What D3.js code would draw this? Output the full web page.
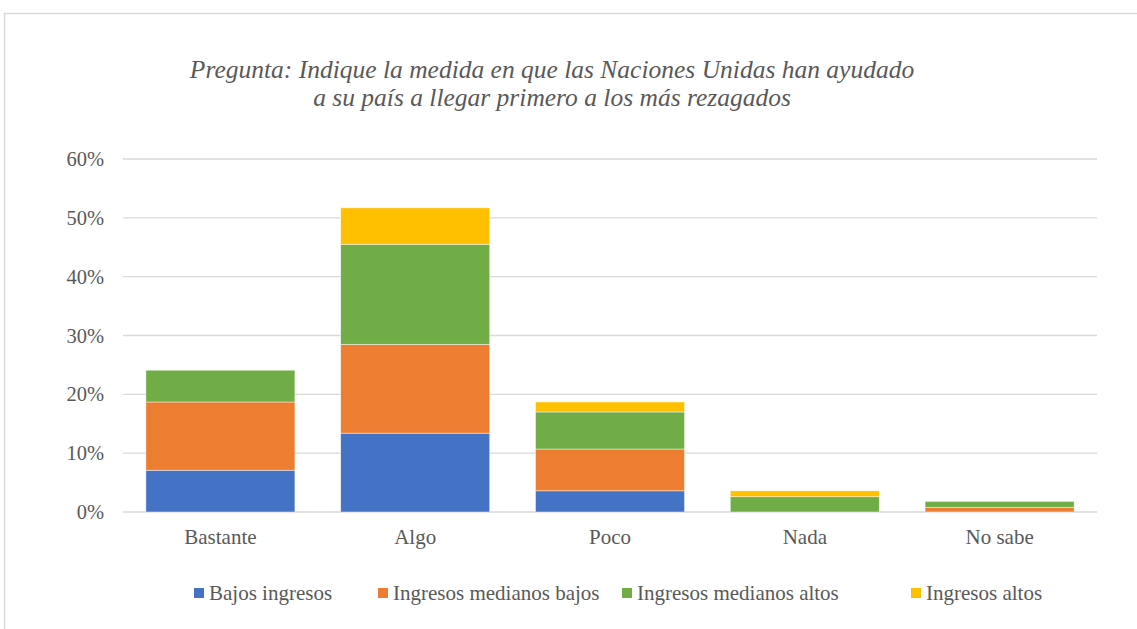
<!DOCTYPE html>
<html>
<head>
<meta charset="utf-8">
<script src="https://cdn.jsdelivr.net/npm/d3@7"></script>
<style>
body{margin:0;background:#fff;}
</style>
</head>
<body>
<svg width="1137" height="629" font-family="'Liberation Serif', 'Times New Roman', serif"></svg>
<script>
// datos
var categorias=["Bastante","Algo","Poco","Nada","No sabe"];
var series=["Bajos ingresos","Ingresos medianos bajos","Ingresos medianos altos","Ingresos altos"];
var bajos=[7.1,13.4,3.6,0,0];
var medBajos=[11.6,15.1,7.1,0,0.8];
var medAltos=[5.4,17.0,6.3,2.6,1.0];
var altos=[0,6.2,1.7,1.0,0];
var colores=["#4472c4","#ed7d31","#70ad47","#ffc000"];
var ticks=[0,10,20,30,40,50,60];
var fuente="'Liberation Serif', 'Times New Roman', serif";

var svg=d3.select("svg");

//marco
svg.append("rect")
   .attr("x",4.5).attr("y",13.5)
   .attr("width",1200).attr("height",700)
   .attr("fill","none").attr("stroke","#d9d9d9").attr("stroke-width",1.5);

//titulo
var titulo=svg.append("text").attr("text-anchor","middle")
   .attr("font-family",fuente).attr("font-style","italic").attr("font-size",25.5).attr("fill","#595959");
titulo.append("tspan").attr("x",552).attr("y",78).text("Pregunta: Indique la medida en que las Naciones Unidas han ayudado");
titulo.append("tspan").attr("x",552).attr("y",106).text("a su país a llegar primero a los más rezagados");

var x=d3.scaleBand().domain(categorias).range([123,1097]).paddingInner(0.235).paddingOuter(0.1175);
var y=d3.scaleLinear().domain([0,60]).range([512,159]);

//lineas de la grilla
svg.selectAll("line.grid").data(ticks).enter().append("line")
   .attr("class","grid")
   .attr("x1",123).attr("x2",1097)
   .attr("y1",function(d){return y(d);}).attr("y2",function(d){return y(d);})
   .attr("stroke","#d9d9d9").attr("stroke-width",1.3);

//etiquetas eje y
svg.selectAll("text.ytick").data(ticks).enter().append("text")
   .attr("class","ytick")
   .attr("x",104).attr("y",function(d){return y(d)+7;})
   .attr("text-anchor","end")
   .attr("font-family",fuente).attr("font-size",20.5).attr("fill","#595959")
   .text(function(d){return d+"%";});

//etiquetas eje x
svg.selectAll("text.xtick").data(categorias).enter().append("text")
   .attr("class","xtick")
   .attr("x",function(d){return x(d)+x.bandwidth()/2;}).attr("y",544)
   .attr("text-anchor","middle")
   .attr("font-family",fuente).attr("font-size",21).attr("fill","#595959")
   .text(function(d){return d;});

//barras apiladas
var tabla=categorias.map(function(c,i){
  return {cat:c,s0:bajos[i],s1:medBajos[i],s2:medAltos[i],s3:altos[i]};
});
var pila=d3.stack().keys(["s0","s1","s2","s3"])(tabla);

svg.selectAll("g.serie").data(pila).enter().append("g")
   .attr("class","serie")
   .attr("fill",function(d,i){return colores[i];})
   .selectAll("rect").data(function(d){return d.filter(function(p){return p[1]-p[0]>0;});})
   .enter().append("rect")
   .attr("x",function(d){return x(d.data.cat);})
   .attr("width",x.bandwidth())
   .attr("y",function(d){return y(d[1]);})
   .attr("height",function(d){return y(d[0])-y(d[1]);})
   .attr("stroke","#ffffff").attr("stroke-opacity",0.6).attr("stroke-width",0.75);

//leyenda
var leyX=[194,378,622,911];
var ley=svg.selectAll("g.ley").data(series).enter().append("g")
   .attr("class","ley")
   .attr("transform",function(d,i){return "translate("+leyX[i]+",588)";});
ley.append("rect").attr("width",10).attr("height",10).attr("fill",function(d,i){return colores[i];});
ley.append("text").attr("x",15).attr("y",12)
   .attr("font-family",fuente).attr("font-size",21).attr("fill","#595959")
   .text(function(d){return d;});
</script>
</body>
</html>
